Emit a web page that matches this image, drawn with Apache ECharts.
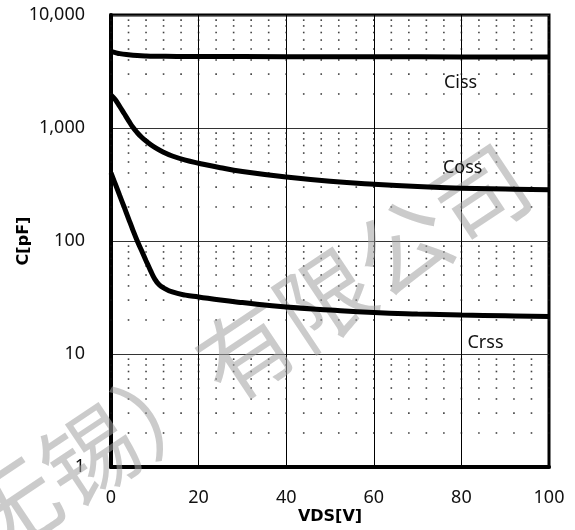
<!DOCTYPE html>
<html>
<head>
<meta charset="utf-8">
<script src="https://cdn.jsdelivr.net/npm/echarts@6/dist/echarts.min.js"></script>
<style>
html,body{margin:0;padding:0;background:#fff;}
#chart{width:575px;height:530px;}
</style>
</head>
<body>
<div id="chart"></div>
<script>
// ---- data ----
const cissX = [0, 1, 2, 4, 6, 8, 10, 15, 20, 40, 60, 80, 100];
const cissY = [4750, 4650, 4550, 4450, 4380, 4340, 4320, 4300, 4290, 4280, 4270, 4260, 4250];

const cossX = [0, 1, 2, 3, 4, 5, 6, 7, 8, 10, 12, 14, 17, 20, 25, 30, 40, 50, 60, 70, 80, 90, 100];
const cossY = [1960, 1778, 1549, 1343, 1164, 1014, 908, 828, 766, 673, 610, 565, 519, 488, 445, 412, 368, 338, 318, 303, 293, 288, 284];

const crssX = [0, 1, 2, 3, 4, 5, 6, 7, 8, 9, 10, 11, 12, 14, 17, 20, 25, 30, 40, 50, 60, 70, 80, 90, 100];
const crssY = [400, 318, 252, 200, 158, 125, 100, 82, 67, 55, 46, 41, 38.5, 35.4, 33.2, 32, 30, 28.5, 26, 24.5, 23.3, 22.6, 22.1, 21.8, 21.5];

const seriesNames = ['Ciss', 'Coss', 'Crss'];
const labelX = [79.8, 80.3, 85.5];
const labelY = [2500, 443, 12.5];

const xTickLabels = ['0', '20', '40', '60', '80', '100'];
const yTickValues = [1, 10, 100, 1000, 10000];
const yTickLabels = ['1', '10', '100', '1,000', '10,000'];

const minorXTicks = [0, 4, 8, 12, 16, 20, 24, 28, 32, 36, 40, 44, 48, 52, 56, 60, 64, 68, 72, 76, 80, 84, 88, 92, 96, 100];
const minorYTicks = [2, 3, 4, 5, 6, 7, 8, 9, 20, 30, 40, 50, 60, 70, 80, 90,
  200, 300, 400, 500, 600, 700, 800, 900, 2000, 3000, 4000, 5000, 6000, 7000, 8000, 9000];

const watermarkText = '无锡）有限公司';

// ---- chart ----
const chart = echarts.init(document.getElementById('chart'), null, {renderer: 'canvas'});

const zip = (xs, ys) => xs.map((x, i) => [x, ys[i]]);
const dots = [];
minorXTicks.forEach(x => minorYTicks.forEach(y => dots.push([x, y])));

const FONT = 'Noto Sans';
const BOLD_FONT = 'DejaVu Sans';

function curve(name, xs, ys, i) {
  return {
    name: name,
    type: 'line',
    data: zip(xs, ys),
    smooth: 0.45,
    showSymbol: false,
    symbol: 'none',
    z: 5,
    lineStyle: {color: '#000', width: 5},
    silent: true,
    markPoint: {
      symbol: 'circle',
      symbolSize: 0,
      silent: true,
      data: [{coord: [labelX[i], labelY[i]], value: name}],
      label: {
        show: true,
        position: 'inside',
        formatter: name,
        fontFamily: FONT,
        fontSize: 18,
        color: '#111'
      }
    }
  };
}

const option = {
  animation: false,
  backgroundColor: '#fff',
  grid: {
    left: 111, top: 15, width: 438, height: 452,
    outerBoundsMode: 'none',
    containLabel: false,
    show: true, borderColor: '#000', borderWidth: 3, backgroundColor: 'transparent'
  },
  xAxis: {
    type: 'value', min: 0, max: 100, interval: 20,
    name: 'VDS[V]', nameLocation: 'middle', nameGap: 42, nameMoveOverlap: false,
    nameTextStyle: {fontFamily: BOLD_FONT, fontWeight: 'bold', fontSize: 16, color: '#000'},
    axisLine: {show: true, onZero: false, lineStyle: {color: '#000', width: 4}},
    axisTick: {show: false},
    axisLabel: {
      margin: 22, fontFamily: FONT, fontSize: 18, color: '#111',
      formatter: v => xTickLabels[Math.round(v / 20)]
    },
    splitLine: {show: true, lineStyle: {color: '#000', width: 1}}
  },
  yAxis: {
    type: 'log', logBase: 10, min: 1, max: 10000, splitNumber: 4,
    name: 'C[pF]', nameLocation: 'middle', nameGap: 79, nameRotate: 90, nameMoveOverlap: false,
    nameTextStyle: {fontFamily: BOLD_FONT, fontWeight: 'bold', fontSize: 16, color: '#000'},
    axisLine: {show: true, onZero: false, lineStyle: {color: '#000', width: 4}},
    axisTick: {show: false},
    axisLabel: {
      margin: 26, fontFamily: FONT, fontSize: 18, color: '#111',
      formatter: v => {
        const i = yTickValues.findIndex(t => Math.abs(t - v) / t < 1e-6);
        return i >= 0 ? yTickLabels[i] : '';
      }
    },
    splitLine: {show: true, lineStyle: {color: '#333', width: 1}}
  },
  graphic: [{
    type: 'text',
    z: 3,
    silent: true,
    x: 246, y: 351,
    rotation: 33.7 * Math.PI / 180,
    style: {
      text: watermarkText,
      fontFamily: 'Noto Sans CJK SC',
      fontSize: 94,
      fill: 'rgba(160,160,160,0.55)',
      align: 'center',
      verticalAlign: 'middle'
    }
  }],
  series: [
    {
      type: 'scatter',
      data: dots,
      symbol: 'rect',
      symbolSize: 1.6,
      silent: true,
      z: 1,
      itemStyle: {color: '#111'}
    },
    curve(seriesNames[0], cissX, cissY, 0),
    curve(seriesNames[1], cossX, cossY, 1),
    curve(seriesNames[2], crssX, crssY, 2)
  ]
};
chart.setOption(option);
</script>
</body>
</html>
